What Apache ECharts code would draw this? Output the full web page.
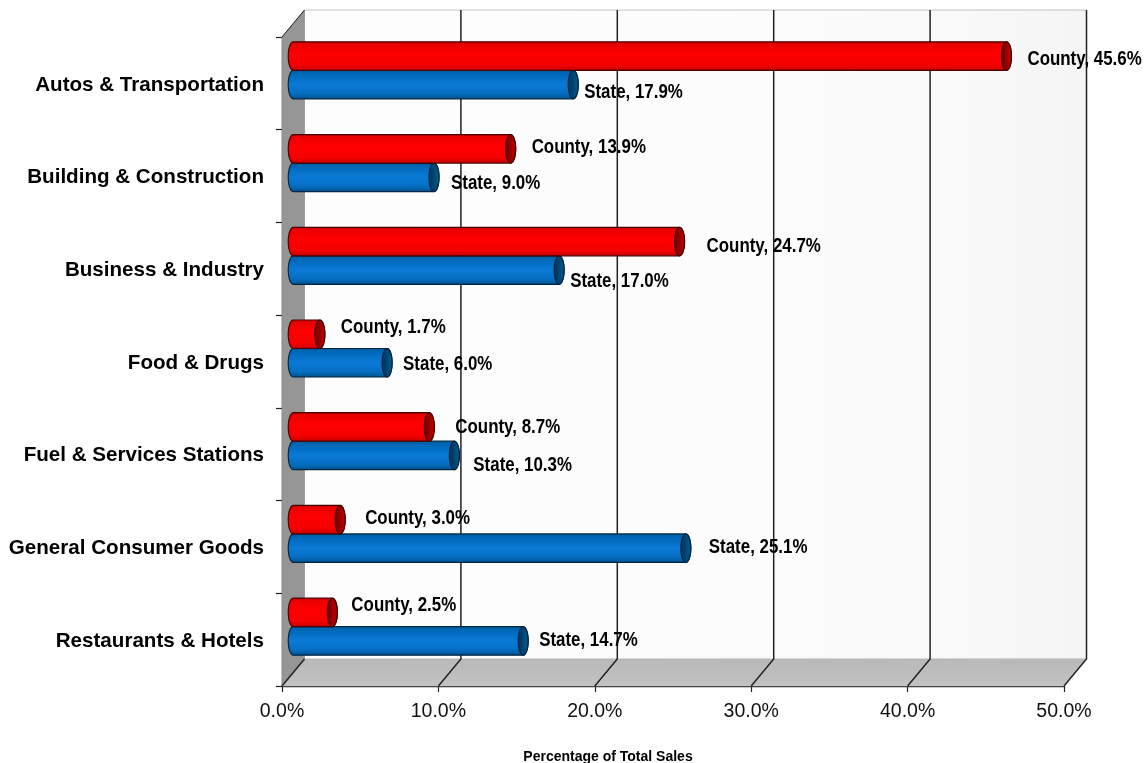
<!DOCTYPE html>
<html>
<head>
<meta charset="utf-8">
<title>Percentage of Total Sales</title>
<script src="https://cdn.jsdelivr.net/npm/echarts@6/dist/echarts.min.js"></script>
<style>html,body{margin:0;padding:0;background:#fff}#c{width:1146px;height:763px}</style>
</head>
<body>
<div id="c"></div>
<script>
const categories = ['Autos & Transportation','Building & Construction','Business & Industry','Food & Drugs','Fuel & Services Stations','General Consumer Goods','Restaurants & Hotels'];
const countyValues = [45.6,13.9,24.7,1.7,8.7,3.0,2.5];
const stateValues = [17.9,9.0,17.0,6.0,10.3,25.1,14.7];
const xTicks = [0,10,20,30,40,50];
const xAxisTitle = 'Percentage of Total Sales';

// hand-placed label offsets from the bar tip, as in the source chart
const countyNudge = [[16,3],[16,-1.5],[22,4.5],[16,-6.5],[21,0.5],[20,-1.5],[14,-6.5]];
const stateNudge = [[6,8],[12,6.5],[6,11.5],[11,2],[14,10.5],[18,-0.5],[11,-0.5]];

const DEPTH_X = 22.5, DEPTH_Y = 27, CAP_RX = 5, BAR_H = 28.5, BAR_SHIFT = 13;

function ellipsePts(cx, cy, rx, ry, a0, a1, n) {
  const p = [];
  for (let i = 0; i <= n; i++) {
    const a = a0 + (a1 - a0) * i / n;
    p.push([cx + rx * Math.cos(a), cy + ry * Math.sin(a)]);
  }
  return p;
}
function grad(horizontal, stops) {
  return new echarts.graphic.LinearGradient(0, 0, horizontal ? 1 : 0, horizontal ? 0 : 1,
    stops.map(s => ({offset: s[0], color: s[1]})));
}

function barRenderer(name, nudge, upper, bodyStops, capStops, edge) {
  return function (params, api) {
    const i = api.value(1), v = api.value(0);
    const zero = api.coord([0, i]), end = api.coord([v, i]);
    const cy = zero[1] - BAR_SHIFT + (upper ? -BAR_H / 2 : BAR_H / 2);
    const x0 = zero[0] + DEPTH_X / 2, x1 = end[0] + DEPTH_X / 2, ry = BAR_H / 2;
    const body = ellipsePts(x1, cy, CAP_RX, ry, -Math.PI / 2, Math.PI / 2, 16)
      .concat(ellipsePts(x0, cy, CAP_RX, ry, Math.PI / 2, Math.PI * 1.5, 16));
    const cap = ellipsePts(x1, cy, CAP_RX, ry, 0, Math.PI * 2, 32);
    const n = nudge[i];
    return {
      type: 'group',
      children: [
        {type: 'polygon', shape: {points: body}, style: {fill: grad(false, bodyStops), stroke: edge, lineWidth: 1.2}},
        {type: 'polygon', shape: {points: cap}, style: {fill: grad(true, capStops), stroke: edge, lineWidth: 1.2}},
        {type: 'text', z2: 50, x: x1 + CAP_RX + n[0], y: cy + n[1], scaleX: 0.845, scaleY: 1, style: {
          x: 0, y: 0,
          text: name + ', ' + v.toFixed(1) + '%',
          fill: '#000', align: 'left', verticalAlign: 'middle',
          font: 'bold 20px "Liberation Sans", Arial, sans-serif'
        }}
      ]
    };
  };
}

function wallRenderer(params, api) {
  const g = params.coordSys;
  const L = g.x, T = g.y, B = g.y + g.height, R = g.x + g.width;
  const dx = DEPTH_X, dy = DEPTH_Y;
  const kids = [];
  kids.push({type: 'rect', shape: {x: L + dx, y: T - dy, width: g.width, height: g.height},
    style: {fill: grad(true, [[0, '#fdfdfd'], [0.6, '#fcfcfc'], [0.82, '#f9f9f9'], [1, '#f5f5f5']]),
      stroke: '#c4c4c4', lineWidth: 1}});
  kids.push({type: 'polygon', shape: {points: [[L, T], [L + dx, T - dy], [L + dx, B - dy], [L, B]]},
    style: {fill: '#969696', stroke: '#8a8a8a', lineWidth: 0.5}});
  kids.push({type: 'polygon', shape: {points: [[L, B], [L + dx, B - dy], [R + dx, B - dy], [R, B]]},
    style: {fill: grad(false, [[0, '#b8b8b8'], [1, '#c2c2c2']]), stroke: '#bdbdbd', lineWidth: 0.5}});
  kids.push({type: 'polyline', shape: {points: [[L, T], [L + dx, T - dy]]}, style: {fill: 'none', stroke: '#222', lineWidth: 1}});
  xTicks.forEach(function (t) {
    const x = api.coord([t, 0])[0];
    const pts = t === 0 ? [[x, B], [x + dx, B - dy]] : [[x, B], [x + dx, B - dy], [x + dx, T - dy]];
    kids.push({type: 'polyline', shape: {points: pts}, style: {fill: 'none', stroke: '#222', lineWidth: 1.5}});
  });
  return {type: 'group', children: kids};
}

const redBody = [[0,'#c00000'],[0.1,'#e80000'],[0.4,'#ff0000'],[0.8,'#f50000'],[1,'#c00000']];
const redCap = [[0,'#6a0000'],[0.6,'#a00000'],[1,'#d00000']];
const blueBody = [[0,'#005a9e'],[0.15,'#0068b8'],[0.5,'#0a7ad6'],[0.8,'#056ec0'],[1,'#004f8c']];
const blueCap = [[0,'#002f5a'],[0.6,'#004a78'],[1,'#006098']];

const chart = echarts.init(document.getElementById('c'), null, {renderer: 'canvas'});
chart.setOption({
  animation: false,
  backgroundColor: '#fff',
  title: {
    text: xAxisTitle, left: 608, top: 750, textAlign: 'center', padding: 0,
    textStyle: {fontFamily: '"Liberation Sans", Arial, sans-serif', fontWeight: 'bold', fontSize: 14, color: '#000'}
  },
  grid: {left: 282, right: 82, top: 37, bottom: 77, outerBoundsMode: 'none'},
  xAxis: {
    type: 'value', min: 0, max: 50, interval: 10,
    axisLabel: {formatter: v => v.toFixed(1) + '%', fontFamily: '"Liberation Sans", Arial, sans-serif', fontSize: 19.5, color: '#111', margin: 16},
    axisLine: {show: true, onZero: false, lineStyle: {color: '#222', width: 1.4}},
    axisTick: {show: true, length: 6, lineStyle: {color: '#222', width: 1.2}},
    splitLine: {show: false}
  },
  yAxis: {
    type: 'category', inverse: true, data: categories,
    axisLabel: {fontFamily: '"Liberation Sans", Arial, sans-serif', fontWeight: 'bold', fontSize: 20.6, color: '#000', margin: 18, verticalAlign: 'top', lineHeight: 3},
    axisLine: {show: true, lineStyle: {color: '#222', width: 1.4}},
    axisTick: {show: true, length: 6, alignWithLabel: false, lineStyle: {color: '#222', width: 1.2}},
    splitLine: {show: false}
  },
  series: [
    {type: 'custom', name: 'Walls', coordinateSystem: 'cartesian2d', clip: false, silent: true, z: 1,
     data: [[0, 0]], renderItem: wallRenderer},
    {type: 'custom', name: 'State', coordinateSystem: 'cartesian2d', clip: false, z: 3,
     encode: {x: 0, y: 1},
     data: stateValues.map((v, i) => [v, i]),
     renderItem: barRenderer('State', stateNudge, false, blueBody, blueCap, '#00263f')},
    {type: 'custom', name: 'County', coordinateSystem: 'cartesian2d', clip: false, z: 4,
     encode: {x: 0, y: 1},
     data: countyValues.map((v, i) => [v, i]),
     renderItem: barRenderer('County', countyNudge, true, redBody, redCap, '#4a0000')}
  ]
});
</script>
</body>
</html>
